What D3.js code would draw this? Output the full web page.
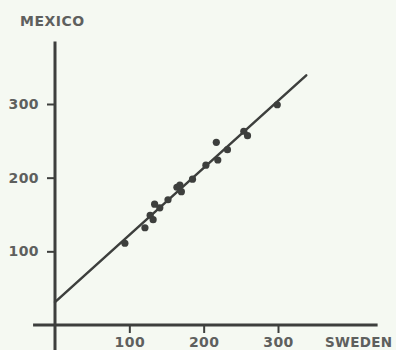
<!DOCTYPE html>
<html>
<head>
<meta charset="utf-8">
<script src="https://cdn.jsdelivr.net/npm/d3@7"></script>
<style>
  html, body { margin: 0; padding: 0; background: #f5f9f2; }
  svg { display: block; }
  text { font-family: "DejaVu Sans", Verdana, sans-serif; font-weight: bold; fill: #5e605e; }
</style>
</head>
<body>
<svg id="chart" width="396" height="350"></svg>
<script>
// Per-capita figures: Sweden (x) against Mexico (y)
const swedenValues = [94, 121, 128, 132, 134, 141, 152, 164, 168, 170, 185, 203, 219, 217, 232, 254, 259, 299];
const mexicoValues = [111, 132, 149, 143, 164, 159, 170, 187, 190, 181, 198, 217, 224, 248, 238, 263, 257, 299];
const xTicks = [100, 200, 300];
const yTicks = [100, 200, 300];
// Fitted line: intercept and slope, drawn over this x range
const fitIntercept = 31;
const fitSlope = 0.911;
const fitRange = [0, 338];

const svg = d3.select("#chart");
const ink = "#3d3f3d";
const labelInk = "#5e605e";

const x = d3.scaleLinear().domain([0, 300]).range([55, 278]);
const y = d3.scaleLinear().domain([0, 300]).range([325, 104]);

// Axes: long crossing strokes
svg.append("line")
  .attr("x1", x(-29.5)).attr("x2", x(434))
  .attr("y1", y(0)).attr("y2", y(0))
  .attr("stroke", ink).attr("stroke-width", 3);
svg.append("line")
  .attr("x1", x(0)).attr("x2", x(0))
  .attr("y1", y(385)).attr("y2", y(-35))
  .attr("stroke", ink).attr("stroke-width", 3);

// X ticks hang below the axis; labels sit on the bottom edge
const xAxis = d3.axisBottom(x).tickValues(xTicks).tickSize(8).tickPadding(0).tickSizeOuter(0);
const gx = svg.append("g").attr("transform", `translate(0,${y(0)})`).call(xAxis);
gx.select(".domain").remove();
gx.selectAll(".tick line").attr("stroke", ink).attr("stroke-width", 2);
gx.selectAll(".tick text").attr("y", 22).attr("dy", null)
  .attr("font-size", 14).attr("letter-spacing", "0.4px").attr("fill", labelInk);

// Y ticks on the left of the axis
const yAxis = d3.axisLeft(y).tickValues(yTicks).tickSize(8).tickPadding(8).tickSizeOuter(0);
const gy = svg.append("g").attr("transform", `translate(${x(0)},0)`).call(yAxis);
gy.select(".domain").remove();
gy.selectAll(".tick line").attr("stroke", ink).attr("stroke-width", 2);
gy.selectAll(".tick text").attr("font-size", 14).attr("letter-spacing", "0.4px").attr("fill", labelInk);

svg.selectAll(".tick text").attr("font-family", "DejaVu Sans, Verdana, sans-serif").attr("font-weight", "bold");

// Axis titles
svg.append("text").attr("x", 20).attr("y", 26)
  .attr("font-size", 14).attr("letter-spacing", "0.5px").text("MEXICO");
svg.append("text").attr("x", 325).attr("y", 347)
  .attr("font-size", 13.5).attr("letter-spacing", "0.3px").text("SWEDEN");

// Regression line
svg.append("line")
  .attr("x1", x(fitRange[0])).attr("y1", y(fitIntercept + fitSlope * fitRange[0]))
  .attr("x2", x(fitRange[1])).attr("y2", y(fitIntercept + fitSlope * fitRange[1]))
  .attr("stroke", ink).attr("stroke-width", 2.5).attr("stroke-linecap", "round");

// Observations
svg.append("g").selectAll("circle")
  .data(swedenValues.map((v, i) => [v, mexicoValues[i]]))
  .join("circle")
  .attr("cx", d => x(d[0]))
  .attr("cy", d => y(d[1]))
  .attr("r", 3.6)
  .attr("fill", ink);
</script>
</body>
</html>
